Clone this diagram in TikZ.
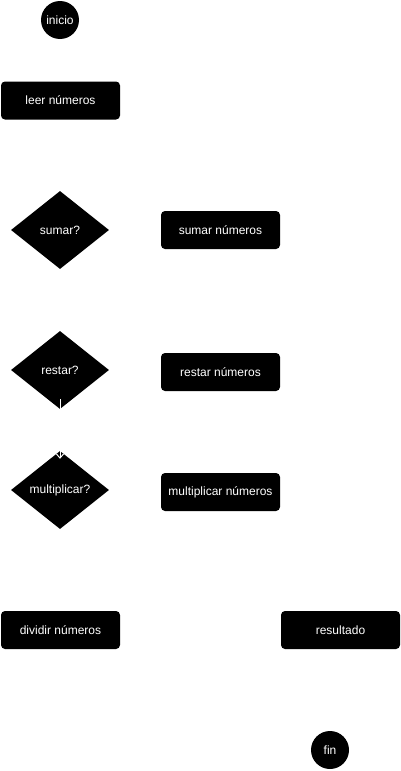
\documentclass[tikz,border=0pt]{standalone}
\usepackage{fontspec}
\setmainfont{Liberation Sans}
\usetikzlibrary{arrows.meta,shapes.geometric,positioning}

\begin{document}
\begin{tikzpicture}[x=1pt,y=-1pt,>={Straight Barb[length=4pt,width=7pt]},node distance=160.5pt,
	font=\fontsize{12}{14}\selectfont,
	term/.style={circle,fill=black,text=white,minimum size=38pt,inner sep=0pt},
	proc/.style={rectangle,rounded corners=4pt,fill=black,text=white,minimum width=119pt,minimum height=38pt,inner sep=0pt},
	test/.style={diamond,aspect=1.256,fill=black,text=white,minimum width=98pt,minimum height=78pt,inner sep=0pt}]
	\useasboundingbox (0,0) rectangle (401,771);

	\node[term] (ini)  at (60,20)    {inicio};
	\node[proc] (leer) at (60.5,100.5) {leer n\'umeros};
	\node[test] (sum)  at (60,230)   {sumar?};
	\node[proc] (sumn) [right of=sum] {sumar n\'umeros};
	\node[test] (res)  at (60,370)   {restar?};
	\node[proc] (resn) at (220.5,372) {restar n\'umeros};
	\node[test] (mul)  at (60,490)   {multiplicar?};
	\node[proc] (muln) at (220.5,492) {multiplicar n\'umeros};
	\node[proc] (div)  at (60.5,630) {dividir n\'umeros};
	\node[proc] (resu) [right of=div,node distance=280pt] {resultado};
	\node[term] (fin)  at (330,750)  {fin};

	\draw[white,line width=1pt,->] ([yshift=10pt]res.south) -- ([yshift=-8pt]mul.north);
\end{tikzpicture}
\end{document}
